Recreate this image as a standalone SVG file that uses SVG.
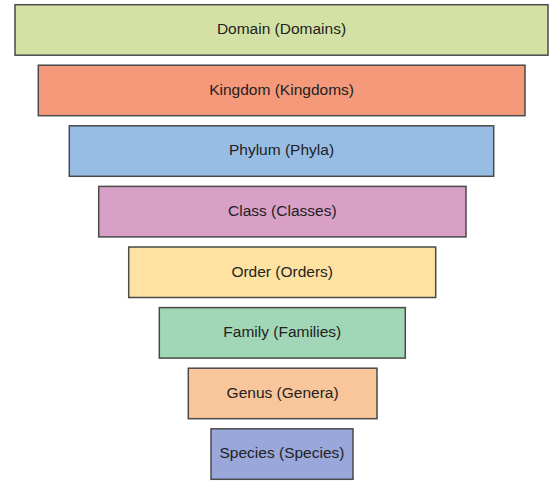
<svg xmlns="http://www.w3.org/2000/svg" width="551" height="482" viewBox="0 0 551 482">
<style>
.box{stroke:#4a4a4a;stroke-width:1.5}
.lbl{font-family:"Liberation Sans",Arial,sans-serif;font-size:15.5px;fill:#222;text-anchor:middle}
</style>
<rect width="551" height="482" fill="#ffffff"/>
<g id="domain"><rect class="box" x="15" y="4.7" width="533" height="50.5" fill="#d3e2a4"/><text class="lbl" x="281.5" y="34.3">Domain (Domains)</text></g>
<g id="kingdom"><rect class="box" x="38.3" y="65.2" width="486.7" height="50.5" fill="#f4997a"/><text class="lbl" x="281.6" y="94.8">Kingdom (Kingdoms)</text></g>
<g id="phylum"><rect class="box" x="69.3" y="125.8" width="424.4" height="50.5" fill="#98bde4"/><text class="lbl" x="281.5" y="155.4">Phylum (Phyla)</text></g>
<g id="class"><rect class="box" x="98.7" y="186.4" width="367.3" height="50.5" fill="#d89fc7"/><text class="lbl" x="282.3" y="216">Class (Classes)</text></g>
<g id="order"><rect class="box" x="128.7" y="247" width="307" height="50.5" fill="#fde2a2"/><text class="lbl" x="282.2" y="276.6">Order (Orders)</text></g>
<g id="family"><rect class="box" x="159.3" y="307.6" width="246" height="50.5" fill="#a1d6b6"/><text class="lbl" x="282.3" y="337.2">Family (Families)</text></g>
<g id="genus"><rect class="box" x="188.3" y="368.2" width="188.7" height="50.5" fill="#f9c59b"/><text class="lbl" x="282.6" y="397.8">Genus (Genera)</text></g>
<g id="species"><rect class="box" x="211" y="428.8" width="142" height="50.5" fill="#99a7da"/><text class="lbl" x="282" y="458.4">Species (Species)</text></g>
<g id="connectors"></g>
</svg>
